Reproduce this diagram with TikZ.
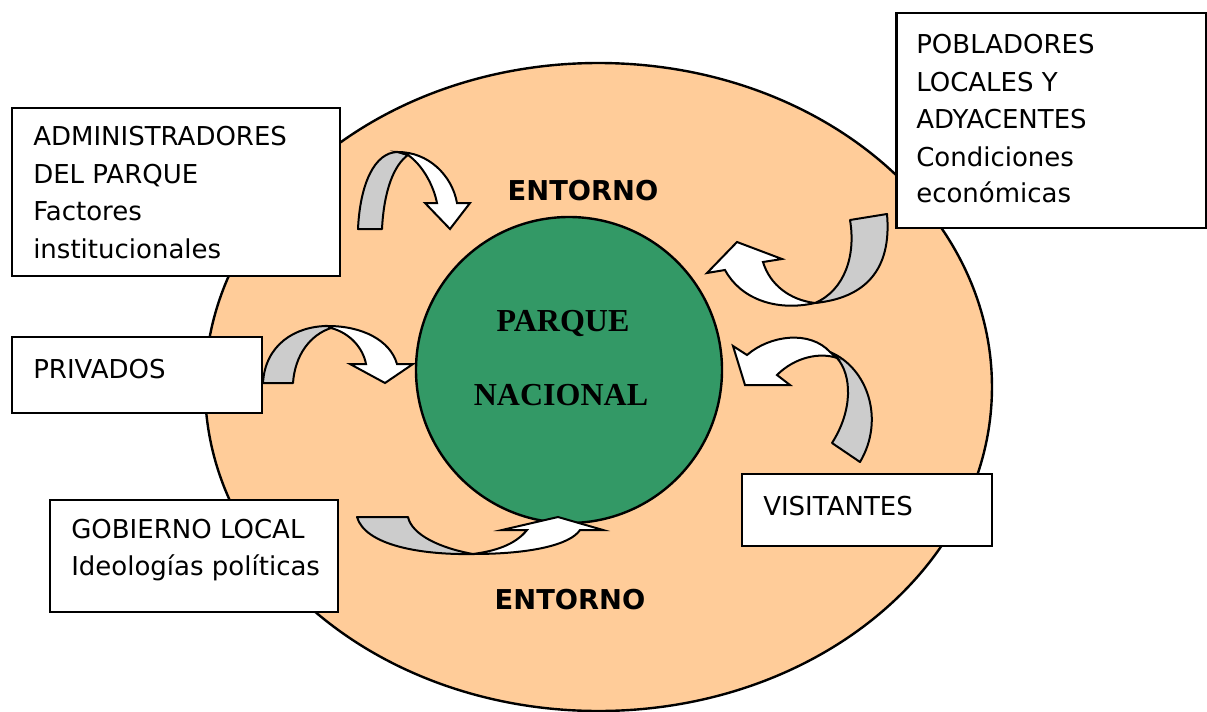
\documentclass[tikz,border=0pt]{standalone}
\usepackage{fontspec}
\setmainfont{DejaVu Sans}
\newfontfamily\titlefont{Liberation Serif}
\definecolor{peach}{HTML}{FFCC99}
\definecolor{parkgreen}{HTML}{339966}
\definecolor{backgray}{HTML}{CCCCCC}
\begin{document}
\begin{tikzpicture}[x=0.75pt,y=-0.75pt,
  lbl/.style={anchor=base west, inner sep=0pt, font=\fontsize{19.5}{23}\selectfont},
  ent/.style={anchor=base, inner sep=0pt, font=\fontsize{20.5}{24}\selectfont\bfseries},
  park/.style={anchor=base, inner sep=0pt, font=\titlefont\fontsize{24}{28}\selectfont\bfseries},
  box/.style={draw=black, line width=1.8pt, fill=white, rectangle, inner sep=0pt},
  back/.style={draw=black, line width=1.5pt, fill=backgray, line join=round},
  front/.style={draw=black, line width=1.5pt, fill=white, line join=miter},
]
\useasboundingbox (0,0) rectangle (1207,711);
% environment and park
\path[draw=black, line width=1.8pt, fill=peach] (598.5,387) ellipse [x radius=295.1pt, y radius=243pt];
\node[circle, draw=black, line width=1.8pt, fill=parkgreen, minimum size=229.5pt, inner sep=0pt] (parque) at (569,370) {};
\node[park] (t1) at (563,331) {PARQUE};
\node[park] (t2) at (561,405) {NACIONAL};
\node[ent] (ent1) at (583,200) {ENTORNO};
\node[ent] (ent2) at (570,609) {ENTORNO};

% boxes
\node[box, minimum width=328*0.75pt, minimum height=168*0.75pt] (admin) at (176,192) {};
\node[box, minimum width=310*0.75pt, minimum height=215*0.75pt] (pobl) at (1051.5,120.5) {};
\node[box, minimum width=250*0.75pt, minimum height=76*0.75pt] (priv) at (137,375) {};
\node[box, minimum width=250*0.75pt, minimum height=72*0.75pt] (visit) at (867,510) {};
\node[box, minimum width=288*0.75pt, minimum height=112*0.75pt] (gob) at (194,556) {};

\node[lbl] (a1) at (33,145) {ADMINISTRADORES};
\node[lbl] (a2) at (33,183) {DEL PARQUE};
\node[lbl] (a3) at (33,220) {Factores};
\node[lbl] (a4) at (33,258) {institucionales};
\node[lbl] (p1) at (916,53) {POBLADORES};
\node[lbl] (p2) at (916,91) {LOCALES Y};
\node[lbl] (p3) at (916,128) {ADYACENTES};
\node[lbl] (p4) at (916,166) {Condiciones};
\node[lbl] (p5) at (916,202) {económicas};
\node[lbl] (r1) at (33,378) {PRIVADOS};
\node[lbl] (v1) at (763,515) {VISITANTES};
\node[lbl] (g1) at (71,538) {GOBIERNO LOCAL};
\node[lbl] (g2) at (71,575) {Ideologías políticas};

% arrow 1 (administradores)
\filldraw[back] (358,229) .. controls (360,185) and (374,152) .. (398,152) -- (408,155)
  .. controls (394,165) and (384,190) .. (382,229) -- cycle;
\filldraw[front] (398,152) .. controls (428,152) and (452,175) .. (457,203) -- (470,203) -- (450,229) -- (425,203) -- (437,203)
  .. controls (433,183) and (421,164) .. (408,155) -- cycle;

% arrow 2 (privados)
\filldraw[back] (263,383) .. controls (265,345) and (295,326) .. (328,326) -- (331,328)
  .. controls (310,335) and (295,355) .. (293,383) -- cycle;
\filldraw[front] (328,326) .. controls (362,326) and (390,340) .. (397,364) -- (413,364) -- (385,383) -- (350,364) -- (366,364)
  .. controls (363,348) and (350,333) .. (331,328) -- cycle;

% arrow 3 (gobierno local)
\filldraw[back] (357,517) .. controls (365,545) and (420,555) .. (473,554)
  .. controls (440,548) and (412,535) .. (408,517) -- cycle;
\filldraw[front] (473,554) .. controls (530,554) and (570,545) .. (580,530) -- (603,530) -- (558,517) -- (502,530) -- (527,530)
  .. controls (515,545) and (495,551) .. (473,554) -- cycle;

% arrow 4 (pobladores)
\filldraw[back] (850,220) .. controls (856,255) and (845,290) .. (815,303)
  .. controls (865,298) and (892,270) .. (887,214) -- cycle;
\filldraw[front] (815,303) .. controls (775,312) and (740,298) .. (725,270) -- (707,273) -- (737,242) -- (782,259) -- (763,262)
  .. controls (770,285) and (790,300) .. (815,303) -- cycle;

% arrow 5 (visitantes)
\filldraw[back] (830,352) .. controls (868,368) and (885,420) .. (860,462) -- (832,443)
  .. controls (853,410) and (852,375) .. (837,358) -- cycle;
\filldraw[front] (830,352) .. controls (810,330) and (770,335) .. (747,355) -- (733,346) -- (745,385) -- (790,385) -- (777,375)
  .. controls (795,357) and (820,352) .. (837,358) -- cycle;
\end{tikzpicture}
\end{document}
